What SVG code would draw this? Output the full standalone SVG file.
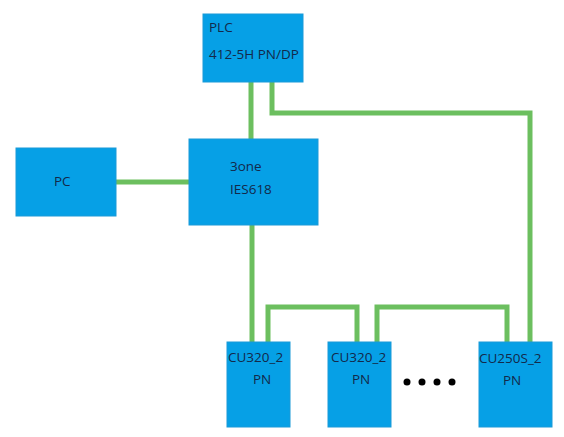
<svg xmlns="http://www.w3.org/2000/svg" width="564" height="437" viewBox="0 0 564 437">
<style>
.box{fill:#06a0e6;stroke:#1a9ad8;stroke-width:1}
.t{font-family:"Open Sans","Noto Sans",sans-serif;font-size:13.5px;fill:#13294a}
.ln{fill:none;stroke:#6cbf5f;stroke-width:5}
</style>
<rect width="564" height="437" fill="#ffffff"/>
<g id="connectors">
<path class="ln" d="M251,82 V139"/>
<path class="ln" d="M272,82 V113 H530 V342"/>
<path class="ln" d="M116,182 H189"/>
<path class="ln" d="M252,225 V342"/>
<path class="ln" d="M268,342 V307 H357 V342"/>
<path class="ln" d="M377,342 V307 H507 V342"/>
</g>
<g id="plc">
<rect class="box" x="203" y="14" width="100" height="68"/>
<text class="t" x="209" y="32">PLC</text>
<text class="t" x="209" y="59">412-5H PN/DP</text>
</g>
<g id="switch">
<rect class="box" x="189" y="139" width="129" height="86"/>
<text class="t" x="230" y="171">3one</text>
<text class="t" x="230" y="194">IES618</text>
</g>
<g id="pc">
<rect class="box" x="16" y="148" width="100" height="68"/>
<text class="t" x="54" y="186">PC</text>
</g>
<g id="cu1">
<rect class="box" x="227" y="342" width="63" height="85"/>
<text class="t" x="228" y="362">CU320_2</text>
<text class="t" x="253" y="384">PN</text>
</g>
<g id="cu2">
<rect class="box" x="328" y="342" width="63" height="85"/>
<text class="t" x="331" y="362">CU320_2</text>
<text class="t" x="352" y="384">PN</text>
</g>
<g id="cu3">
<rect class="box" x="479" y="342" width="73" height="85"/>
<text class="t" x="479" y="363">CU250S_2</text>
<text class="t" x="503" y="385">PN</text>
</g>
<g id="dots" fill="#000000">
<circle cx="407" cy="382" r="3.5"/>
<circle cx="422" cy="382" r="3.5"/>
<circle cx="437" cy="382" r="3.5"/>
<circle cx="452" cy="382" r="3.5"/>
</g>
</svg>
